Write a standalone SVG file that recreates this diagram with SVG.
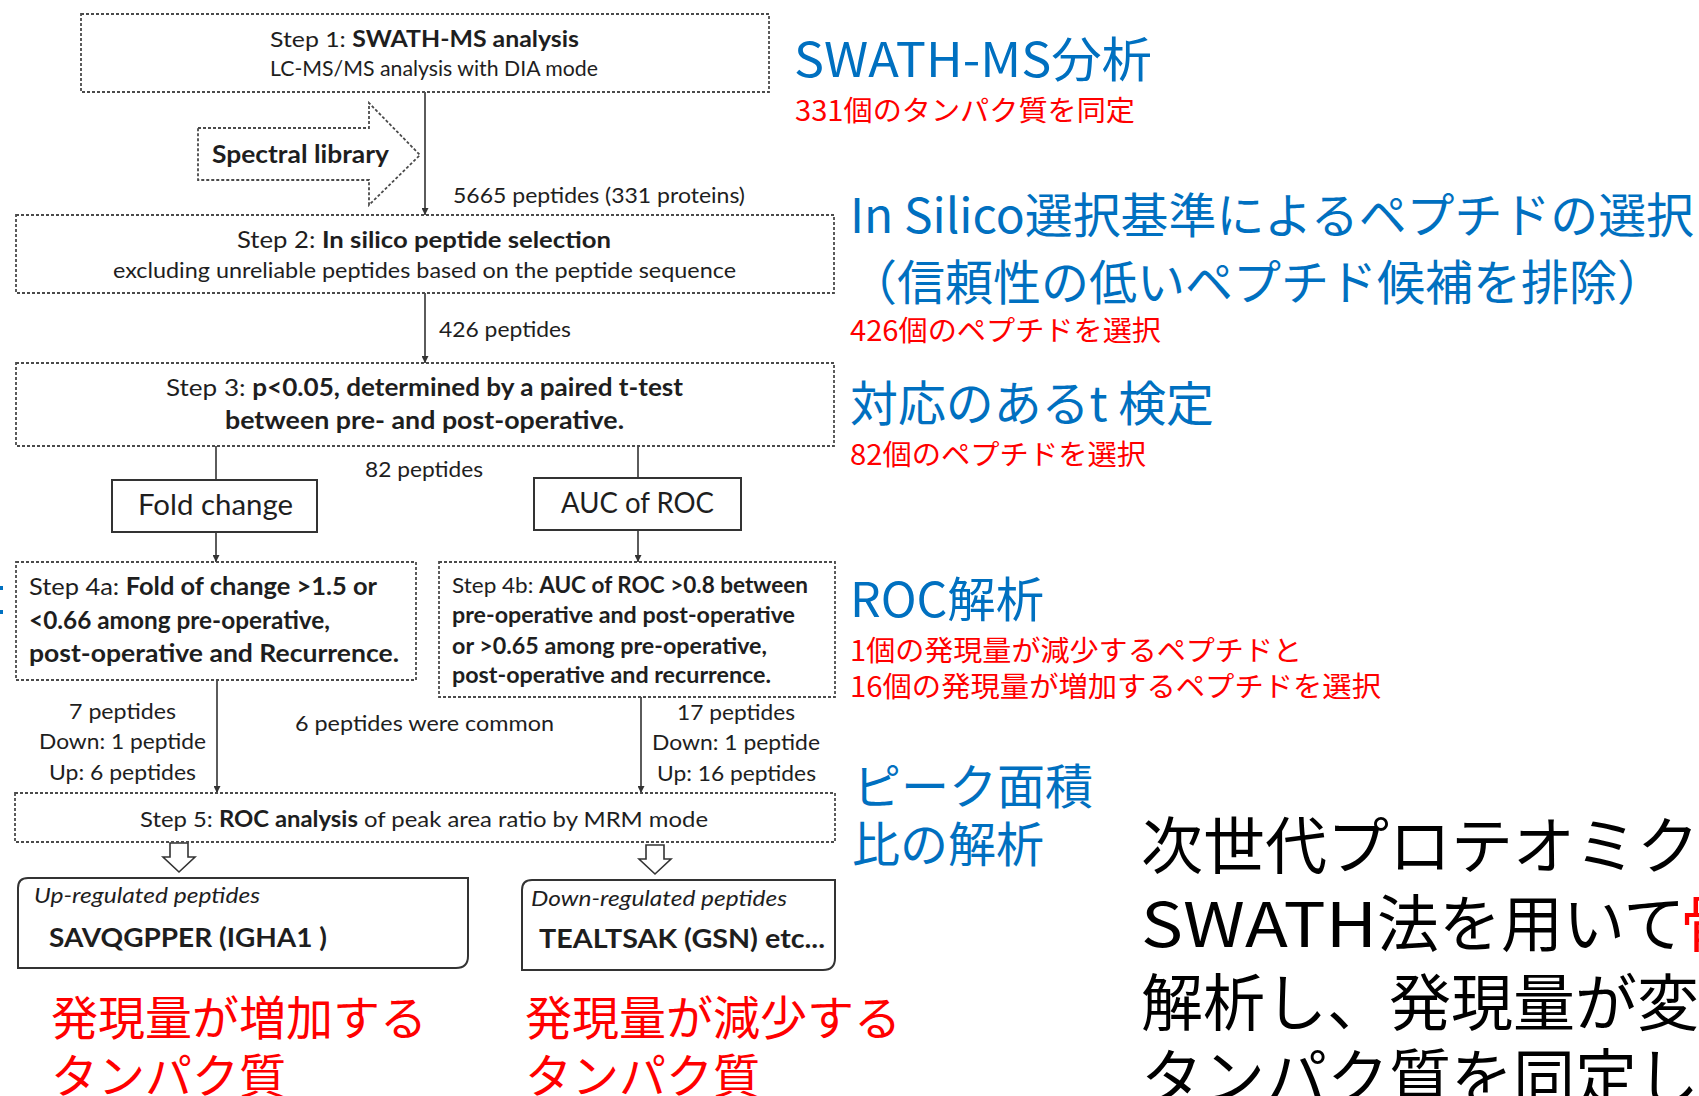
<svg xmlns="http://www.w3.org/2000/svg" width="1699" height="1096" viewBox="0 0 1699 1096">
<style>
.bg{fill:#fff}
.dbox{fill:none;stroke:#4a4a4a;stroke-width:1.8;stroke-dasharray:3 2}
.sbox{fill:#fff;stroke:#333;stroke-width:2}
.conn{stroke:#333;stroke-width:1.6;fill:none}
.en{font-family:"Lato","Liberation Sans",sans-serif;fill:#1e1e1e}
.b{font-weight:bold}
.it{font-style:italic}
.jp{font-family:"Noto Sans CJK JP",sans-serif}
.blue{fill:#0070C0}
.red{fill:#FF0000}
.blk{fill:#000}
</style>
<defs>
<marker id="ah" viewBox="0 0 10 10" refX="10" refY="5" markerWidth="7" markerHeight="7" markerUnits="userSpaceOnUse" orient="auto">
<path d="M0,0 L10,5 L0,10 Z" fill="#333"/>
</marker>
</defs>
<rect class="bg" x="0" y="0" width="1699" height="1096"/>

<g id="connectors">
<line class="conn" x1="425" y1="92" x2="425" y2="215" marker-end="url(#ah)"/>
<line class="conn" x1="425" y1="293" x2="425" y2="363" marker-end="url(#ah)"/>
<line class="conn" x1="216" y1="446" x2="216" y2="480"/>
<line class="conn" x1="638" y1="446" x2="638" y2="478"/>
<line class="conn" x1="216" y1="532" x2="216" y2="562" marker-end="url(#ah)"/>
<line class="conn" x1="638" y1="530" x2="638" y2="562" marker-end="url(#ah)"/>
<line class="conn" x1="217" y1="680" x2="217" y2="793" marker-end="url(#ah)"/>
<line class="conn" x1="641" y1="697" x2="641" y2="793" marker-end="url(#ah)"/>
<path class="conn" d="M170,843 H188 V857 H195 L179,872 L163,857 H170 Z"/>
<path class="conn" d="M646,845 H664 V859 H671 L655,874 L639,859 H646 Z"/>
</g>

<g id="step1">
<rect class="dbox" x="81" y="14" width="688" height="78"/>
<text class="en" x="270" y="47" font-size="22" textLength="309" lengthAdjust="spacingAndGlyphs">Step 1: <tspan class="b">SWATH-MS analysis</tspan></text>
<text class="en" x="270" y="76" font-size="21" textLength="328" lengthAdjust="spacingAndGlyphs">LC-MS/MS analysis with DIA mode</text>
</g>

<g id="spectral-library">
<path class="dbox" d="M198,128 H369 V103 L420,155 L369,205 V180 H198 Z"/>
<text class="en b" x="212" y="163" font-size="25" textLength="177" lengthAdjust="spacingAndGlyphs">Spectral library</text>
</g>

<g id="label-5665">
<text class="en" x="453" y="203" font-size="21" textLength="292" lengthAdjust="spacingAndGlyphs">5665 peptides (331 proteins)</text>
</g>

<g id="step2">
<rect class="dbox" x="16" y="215" width="818" height="78"/>
<text class="en" x="237" y="248" font-size="23" textLength="374" lengthAdjust="spacingAndGlyphs">Step 2: <tspan class="b">In silico peptide selection</tspan></text>
<text class="en" x="113" y="278" font-size="21" textLength="623" lengthAdjust="spacingAndGlyphs">excluding unreliable peptides based on the peptide sequence</text>
</g>

<g id="label-426">
<text class="en" x="439" y="337" font-size="21" textLength="132" lengthAdjust="spacingAndGlyphs">426 peptides</text>
</g>

<g id="step3">
<rect class="dbox" x="16" y="363" width="818" height="83"/>
<text class="en" x="166" y="396" font-size="24" textLength="517" lengthAdjust="spacingAndGlyphs">Step 3: <tspan class="b">p&lt;0.05, determined by a paired t-test</tspan></text>
<text class="en b" x="225" y="429" font-size="24" textLength="399" lengthAdjust="spacingAndGlyphs">between pre- and post-operative.</text>
</g>

<g id="label-82">
<text class="en" x="365" y="477" font-size="21" textLength="118" lengthAdjust="spacingAndGlyphs">82 peptides</text>
</g>

<g id="fold-change">
<rect class="sbox" x="112" y="480" width="205" height="52"/>
<text class="en" x="138" y="515" font-size="28" textLength="155" lengthAdjust="spacingAndGlyphs">Fold change</text>
</g>

<g id="auc-of-roc">
<rect class="sbox" x="534" y="478" width="207" height="52"/>
<text class="en" x="561" y="513" font-size="28" textLength="153" lengthAdjust="spacingAndGlyphs">AUC of ROC</text>
</g>

<g id="step4a">
<rect class="dbox" x="16" y="562" width="400" height="118"/>
<text class="en" x="29" y="595" font-size="24" textLength="348" lengthAdjust="spacingAndGlyphs">Step 4a: <tspan class="b">Fold of change &gt;1.5 or</tspan></text>
<text class="en b" x="29" y="629" font-size="24" textLength="301" lengthAdjust="spacingAndGlyphs">&lt;0.66 among pre-operative,</text>
<text class="en b" x="29" y="662" font-size="24" textLength="370" lengthAdjust="spacingAndGlyphs">post-operative and Recurrence.</text>
</g>

<g id="step4b">
<rect class="dbox" x="439" y="562" width="396" height="135"/>
<text class="en" x="452" y="593" font-size="22" textLength="356" lengthAdjust="spacingAndGlyphs">Step 4b: <tspan class="b">AUC of ROC &gt;0.8 between</tspan></text>
<text class="en b" x="452" y="623" font-size="22" textLength="343" lengthAdjust="spacingAndGlyphs">pre-operative and post-operative</text>
<text class="en b" x="452" y="654" font-size="22" textLength="315" lengthAdjust="spacingAndGlyphs">or &gt;0.65 among pre-operative,</text>
<text class="en b" x="452" y="683" font-size="22" textLength="319" lengthAdjust="spacingAndGlyphs">post-operative and recurrence.</text>
</g>

<g id="label-7">
<text class="en" x="69" y="719" font-size="21" textLength="107" lengthAdjust="spacingAndGlyphs">7 peptides</text>
<text class="en" x="39" y="749" font-size="21" textLength="167" lengthAdjust="spacingAndGlyphs">Down: 1 peptide</text>
<text class="en" x="49" y="780" font-size="21" textLength="147" lengthAdjust="spacingAndGlyphs">Up: 6 peptides</text>
</g>

<g id="label-common">
<text class="en" x="295" y="731" font-size="21" textLength="259" lengthAdjust="spacingAndGlyphs">6 peptides were common</text>
</g>

<g id="label-17">
<text class="en" x="677" y="720" font-size="21" textLength="118" lengthAdjust="spacingAndGlyphs">17 peptides</text>
<text class="en" x="652" y="750" font-size="21" textLength="168" lengthAdjust="spacingAndGlyphs">Down: 1 peptide</text>
<text class="en" x="657" y="781" font-size="21" textLength="159" lengthAdjust="spacingAndGlyphs">Up: 16 peptides</text>
</g>

<g id="step5">
<rect class="dbox" x="15" y="793" width="820" height="49"/>
<text class="en" x="140" y="827" font-size="22" textLength="568" lengthAdjust="spacingAndGlyphs">Step 5: <tspan class="b">ROC analysis</tspan> of peak area ratio by MRM mode</text>
</g>

<g id="up-regulated">
<path class="sbox" d="M28,878 H468 V956 Q468,968 456,968 H18 V888 Q18,878 28,878 Z"/>
<text class="en it" x="34" y="903" font-size="21" textLength="226" lengthAdjust="spacingAndGlyphs">Up-regulated peptides</text>
<text class="en b" x="49" y="947" font-size="26" textLength="278" lengthAdjust="spacingAndGlyphs">SAVQGPPER (IGHA1 )</text>
</g>

<g id="down-regulated">
<path class="sbox" d="M532,880 H835 V958 Q835,970 823,970 H522 V890 Q522,880 532,880 Z"/>
<text class="en it" x="531" y="906" font-size="21" textLength="256" lengthAdjust="spacingAndGlyphs">Down-regulated peptides</text>
<text class="en b" x="539" y="948" font-size="26" textLength="286" lengthAdjust="spacingAndGlyphs">TEALTSAK (GSN) etc...</text>
</g>

<g id="red-captions">
<text class="jp red" x="51" y="1035" font-size="47">発現量が増加する</text>
<text class="jp red" x="51" y="1093" font-size="47">タンパク質</text>
<text class="jp red" x="525" y="1035" font-size="47">発現量が減少する</text>
<text class="jp red" x="525" y="1093" font-size="47">タンパク質</text>
</g>

<g id="annotations">
<text class="jp blue" x="794" y="77" font-size="48" textLength="358" lengthAdjust="spacingAndGlyphs">SWATH-MS分析</text>
<text class="jp red" x="795" y="121" font-size="28" textLength="340" lengthAdjust="spacingAndGlyphs">331個のタンパク質を同定</text>
<text class="jp blue" x="850" y="233" font-size="48" textLength="844" lengthAdjust="spacingAndGlyphs">In Silico選択基準によるペプチドの選択</text>
<text class="jp blue" x="849" y="300" font-size="48">（信頼性の低いペプチド候補を排除）</text>
<text class="jp red" x="850" y="341" font-size="28" textLength="311" lengthAdjust="spacingAndGlyphs">426個のペプチドを選択</text>
<text class="jp blue" x="850" y="421" font-size="48" textLength="364" lengthAdjust="spacingAndGlyphs">対応のあるt 検定</text>
<text class="jp red" x="850" y="465" font-size="28" textLength="296" lengthAdjust="spacingAndGlyphs">82個のペプチドを選択</text>
<text class="jp blue" x="850" y="617" font-size="48" textLength="194" lengthAdjust="spacingAndGlyphs">ROC解析</text>
<text class="jp red" x="850" y="661" font-size="28" textLength="452" lengthAdjust="spacingAndGlyphs">1個の発現量が減少するペプチドと</text>
<text class="jp red" x="850" y="697" font-size="28" textLength="531" lengthAdjust="spacingAndGlyphs">16個の発現量が増加するペプチドを選択</text>
<text class="jp blue" x="853" y="804" font-size="48">ピーク面積</text>
<text class="jp blue" x="852" y="862" font-size="48">比の解析</text>
<rect x="0" y="586" width="3" height="4" fill="#0070C0"/>
<rect x="0" y="610" width="3" height="4" fill="#0070C0"/>
</g>

<g id="summary">
<text class="jp blk" x="1141" y="869" font-size="62">次世代プロテオミク</text>
<text class="jp blk" x="1141" y="947" font-size="62" textLength="236" lengthAdjust="spacingAndGlyphs">SWATH</text>
<text class="jp blk" x="1377" y="947" font-size="62">法を用いて</text>
<text class="jp red" x="1680" y="947" font-size="62">骨</text>
<text class="jp blk" x="1141" y="1026" font-size="62">解析し、発現量が変</text>
<text class="jp blk" x="1141" y="1101" font-size="62">タンパク質を同定し</text>
</g>
</svg>
